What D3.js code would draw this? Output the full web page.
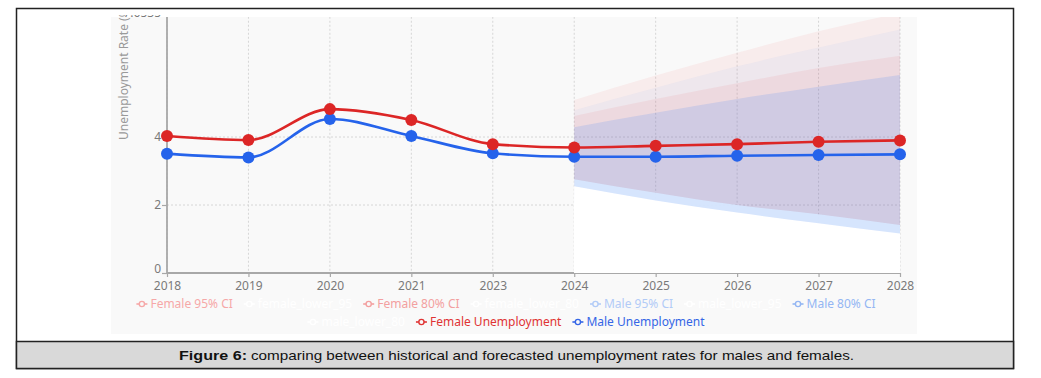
<!DOCTYPE html>
<html><head><meta charset="utf-8">
<script src="https://cdn.jsdelivr.net/npm/d3@7"></script>
<style>body{margin:0;background:#fff}svg{display:block}</style>
</head><body>
<svg id="c" width="1041" height="378"></svg>
<script>
// ---------- data ----------
const years = ["2018","2019","2020","2021","2023","2024","2025","2026","2027","2028"];
const femaleRate = [4.03, 3.91, 4.82, 4.50, 3.79, 3.69, 3.74, 3.79, 3.86, 3.90];
const maleRate   = [3.51, 3.40, 4.53, 4.03, 3.52, 3.42, 3.42, 3.45, 3.47, 3.49];
const forecastYears = ["2024","2025","2026","2027","2028"];
const female95Lower = [2.29, 1.67, 1.10, 0.65, 0.15];
const female95Upper = [5.09, 5.81, 6.48, 7.11, 7.65];
const female80Lower = [2.76, 2.36, 2.00, 1.73, 1.41];
const female80Upper = [4.62, 5.12, 5.58, 6.03, 6.39];
const male95Lower   = [2.05, 1.39, 0.82, 0.31, 0.00];
const male95Upper   = [4.79, 5.45, 6.08, 6.63, 7.16];
const male80Lower   = [2.55, 2.13, 1.78, 1.46, 1.16];
const male80Upper   = [4.29, 4.71, 5.12, 5.48, 5.82];
const yTicks = [0, 2, 4];
const yMax = 7.6535;
const yMaxLabel = "7.6535";
const yTitle = "Unemployment Rate (%)";
const legendNames = ["Female 95% CI","female_lower_95","Female 80% CI","female_lower_80","Male 95% CI","male_lower_95","Male 80% CI","male_lower_80","Female Unemployment","Male Unemployment"];
const captionBold = "Figure 6:";
const captionText = "comparing between historical and forecasted unemployment rates for males and females.";

// ---------- layout ----------
const svg = d3.select("#c");
const FONT = "'Noto Sans', 'Open Sans', sans-serif";
svg.append("rect").attr("x",16.5).attr("y",8.5).attr("width",997).attr("height",360)
  .attr("fill","#fff").attr("stroke","#222").attr("stroke-width",1.5);
svg.append("rect").attr("x",16.5).attr("y",341.5).attr("width",997).attr("height",27)
  .attr("fill","#d9d9d9").attr("stroke","#222").attr("stroke-width",1.5);

const panel = {x:111, y:17, w:806, h:317};
svg.append("rect").attr("x",panel.x).attr("y",panel.y).attr("width",panel.w).attr("height",panel.h).attr("fill","#f9f9f9");

const defs = svg.append("defs");
defs.append("clipPath").attr("id","clipP").append("rect")
  .attr("x",panel.x).attr("y",panel.y).attr("width",panel.w).attr("height",panel.h);
defs.append("clipPath").attr("id","clipL").append("rect")
  .attr("x",panel.x).attr("y",15).attr("width",panel.w).attr("height",panel.h+2);

const x = d3.scalePoint().domain(years).range([167, 900]);
const y = d3.scaleLinear().domain([0, yMax]).range([273, 273 - yMax*34]);

const g = svg.append("g").attr("clip-path","url(#clipP)");

// grid
g.append("g").selectAll("line").data(years).join("line")
  .attr("x1",d=>x(d)).attr("x2",d=>x(d)).attr("y1",y(yMax)).attr("y2",y(0))
  .attr("stroke","#d6d6d6").attr("stroke-dasharray","2,2");
g.append("g").selectAll("line").data(yTicks.filter(v=>v>0)).join("line")
  .attr("x1",167).attr("x2",900).attr("y1",d=>y(d)).attr("y2",d=>y(d))
  .attr("stroke","#d6d6d6").attr("stroke-dasharray","2,2");

// axes
const xAxis = d3.axisBottom(x).tickSize(4).tickPadding(4);
const xg = g.append("g").attr("transform",`translate(0,${y(0)})`).call(xAxis);
const yAxis = d3.axisLeft(y).tickValues(yTicks).tickSize(5).tickPadding(1).tickFormat(d3.format("d"));
const yg = g.append("g").attr("transform","translate(167,0)").call(yAxis);
[xg,yg].forEach(a=>{
  a.select(".domain").attr("stroke","#a8a8a8").attr("stroke-width",1.8);
  a.selectAll(".tick line").attr("stroke","#a8a8a8").attr("stroke-width",1.2);
  a.selectAll(".tick text").attr("fill","#7a7a7a").attr("font-family",FONT).attr("font-size",12);
});
yg.selectAll(".tick text").filter(d=>d===0).attr("dy","-0.05em");
yg.select(".domain").attr("d",`M-0,${y(yMax)}V${y(0)}`);
xg.select(".domain").attr("d",`M${x(years[0])},0H${x(years[years.length-1])}`);

// top (cut) y label + y title, clipped to the picture's top edge
const lab = svg.append("g").attr("clip-path","url(#clipL)");
lab.append("text")
  .attr("x",161).attr("y",y(yMax)).attr("dy","0.35em").attr("text-anchor","end")
  .attr("fill","#7a7a7a").attr("font-family",FONT).attr("font-size",12).text(yMaxLabel);
lab.append("text")
  .attr("transform","translate(124,140) rotate(-90)").attr("dy","0.35em")
  .attr("fill","#9a9a9a").attr("font-family",FONT).attr("font-size",12).text(yTitle);

// bands (stacked style: white lower fill, then coloured band)
const bandSpecs = [
  {lower:female95Lower, upper:female95Upper, fill:"#ef4444", op:0.07},
  {lower:female80Lower, upper:female80Upper, fill:"#ef4444", op:0.08},
  {lower:male95Lower,   upper:male95Upper,   fill:"#3b82f6", op:0.05},
  {lower:male80Lower,   upper:male80Upper,   fill:"#3b82f6", op:0.16}
];
const bg = g.append("g");
bandSpecs.forEach(s=>{
  const idx = forecastYears.map((d,i)=>i);
  const lowArea = d3.area().x(i=>x(forecastYears[i])).y0(y(0)).y1(i=>y(s.lower[i])).curve(d3.curveMonotoneX);
  const band = d3.area().x(i=>x(forecastYears[i])).y0(i=>y(s.lower[i])).y1(i=>y(s.upper[i])).curve(d3.curveMonotoneX);
  bg.append("path").attr("d",lowArea(idx)).attr("fill","#ffffff").attr("opacity",0.95);
  bg.append("path").attr("d",band(idx)).attr("fill",s.fill).attr("fill-opacity",s.op);
});

// lines
const series = [
  {vals:maleRate, color:"#2563eb"},
  {vals:femaleRate, color:"#dc2626"}
];
const lg = svg.append("g");
series.forEach(s=>{
  const line = d3.line().x((d,i)=>x(years[i])).y(d=>y(d)).curve(d3.curveMonotoneX);
  lg.append("path").attr("d",line(s.vals)).attr("fill","none").attr("stroke",s.color).attr("stroke-width",2.6);
  lg.append("g").selectAll("circle").data(s.vals).join("circle")
    .attr("cx",(d,i)=>x(years[i])).attr("cy",d=>y(d)).attr("r",6).attr("fill",s.color);
});

// legend
const legendColors = ["#f6a8a8","#ffffff","#f3a0a0","#ffffff","#b2cbf7","#ffffff","#94b6f3","#ffffff","#e03434","#3566e6"];
const rows = [[0,1,2,3,4,5,6],[7,8,9]];
const rowY = [304, 322];
const leg = svg.append("g");
rows.forEach((row,ri)=>{
  const items = row.map(i=>{
    const gi = leg.append("g");
    gi.append("line").attr("x1",0).attr("x2",11).attr("y1",0).attr("y2",0)
      .attr("stroke",legendColors[i]).attr("stroke-width",1.6);
    gi.append("circle").attr("cx",5.5).attr("cy",0).attr("r",2.6)
      .attr("fill","#f9f9f9").attr("stroke",legendColors[i]).attr("stroke-width",1.4);
    const t = gi.append("text").attr("x",14).attr("y",0).attr("dy","0.35em")
      .attr("fill",legendColors[i]).attr("font-family",FONT).attr("font-size",12).text(legendNames[i]);
    return {gi, w:14 + t.node().getComputedTextLength()};
  });
  const gap = 11;
  const total = d3.sum(items,d=>d.w) + gap*(items.length-1);
  let cx = 506 - total/2;
  items.forEach(it=>{ it.gi.attr("transform",`translate(${cx},${rowY[ri]})`); cx += it.w + gap; });
});

// caption
const CF = "'Liberation Sans Narrow','Arial Narrow','Liberation Sans',Arial,sans-serif";
svg.append("text").attr("x",179).attr("y",355).attr("dy","0.35em")
  .attr("font-family",CF).attr("font-weight","bold").attr("font-size",13.5)
  .attr("textLength",68).attr("lengthAdjust","spacingAndGlyphs").attr("fill","#111").text(captionBold);
svg.append("text").attr("x",251).attr("y",355).attr("dy","0.35em")
  .attr("font-family",CF).attr("font-size",13.5)
  .attr("textLength",603).attr("lengthAdjust","spacingAndGlyphs").attr("fill","#111").text(captionText);
</script>
</body></html>
